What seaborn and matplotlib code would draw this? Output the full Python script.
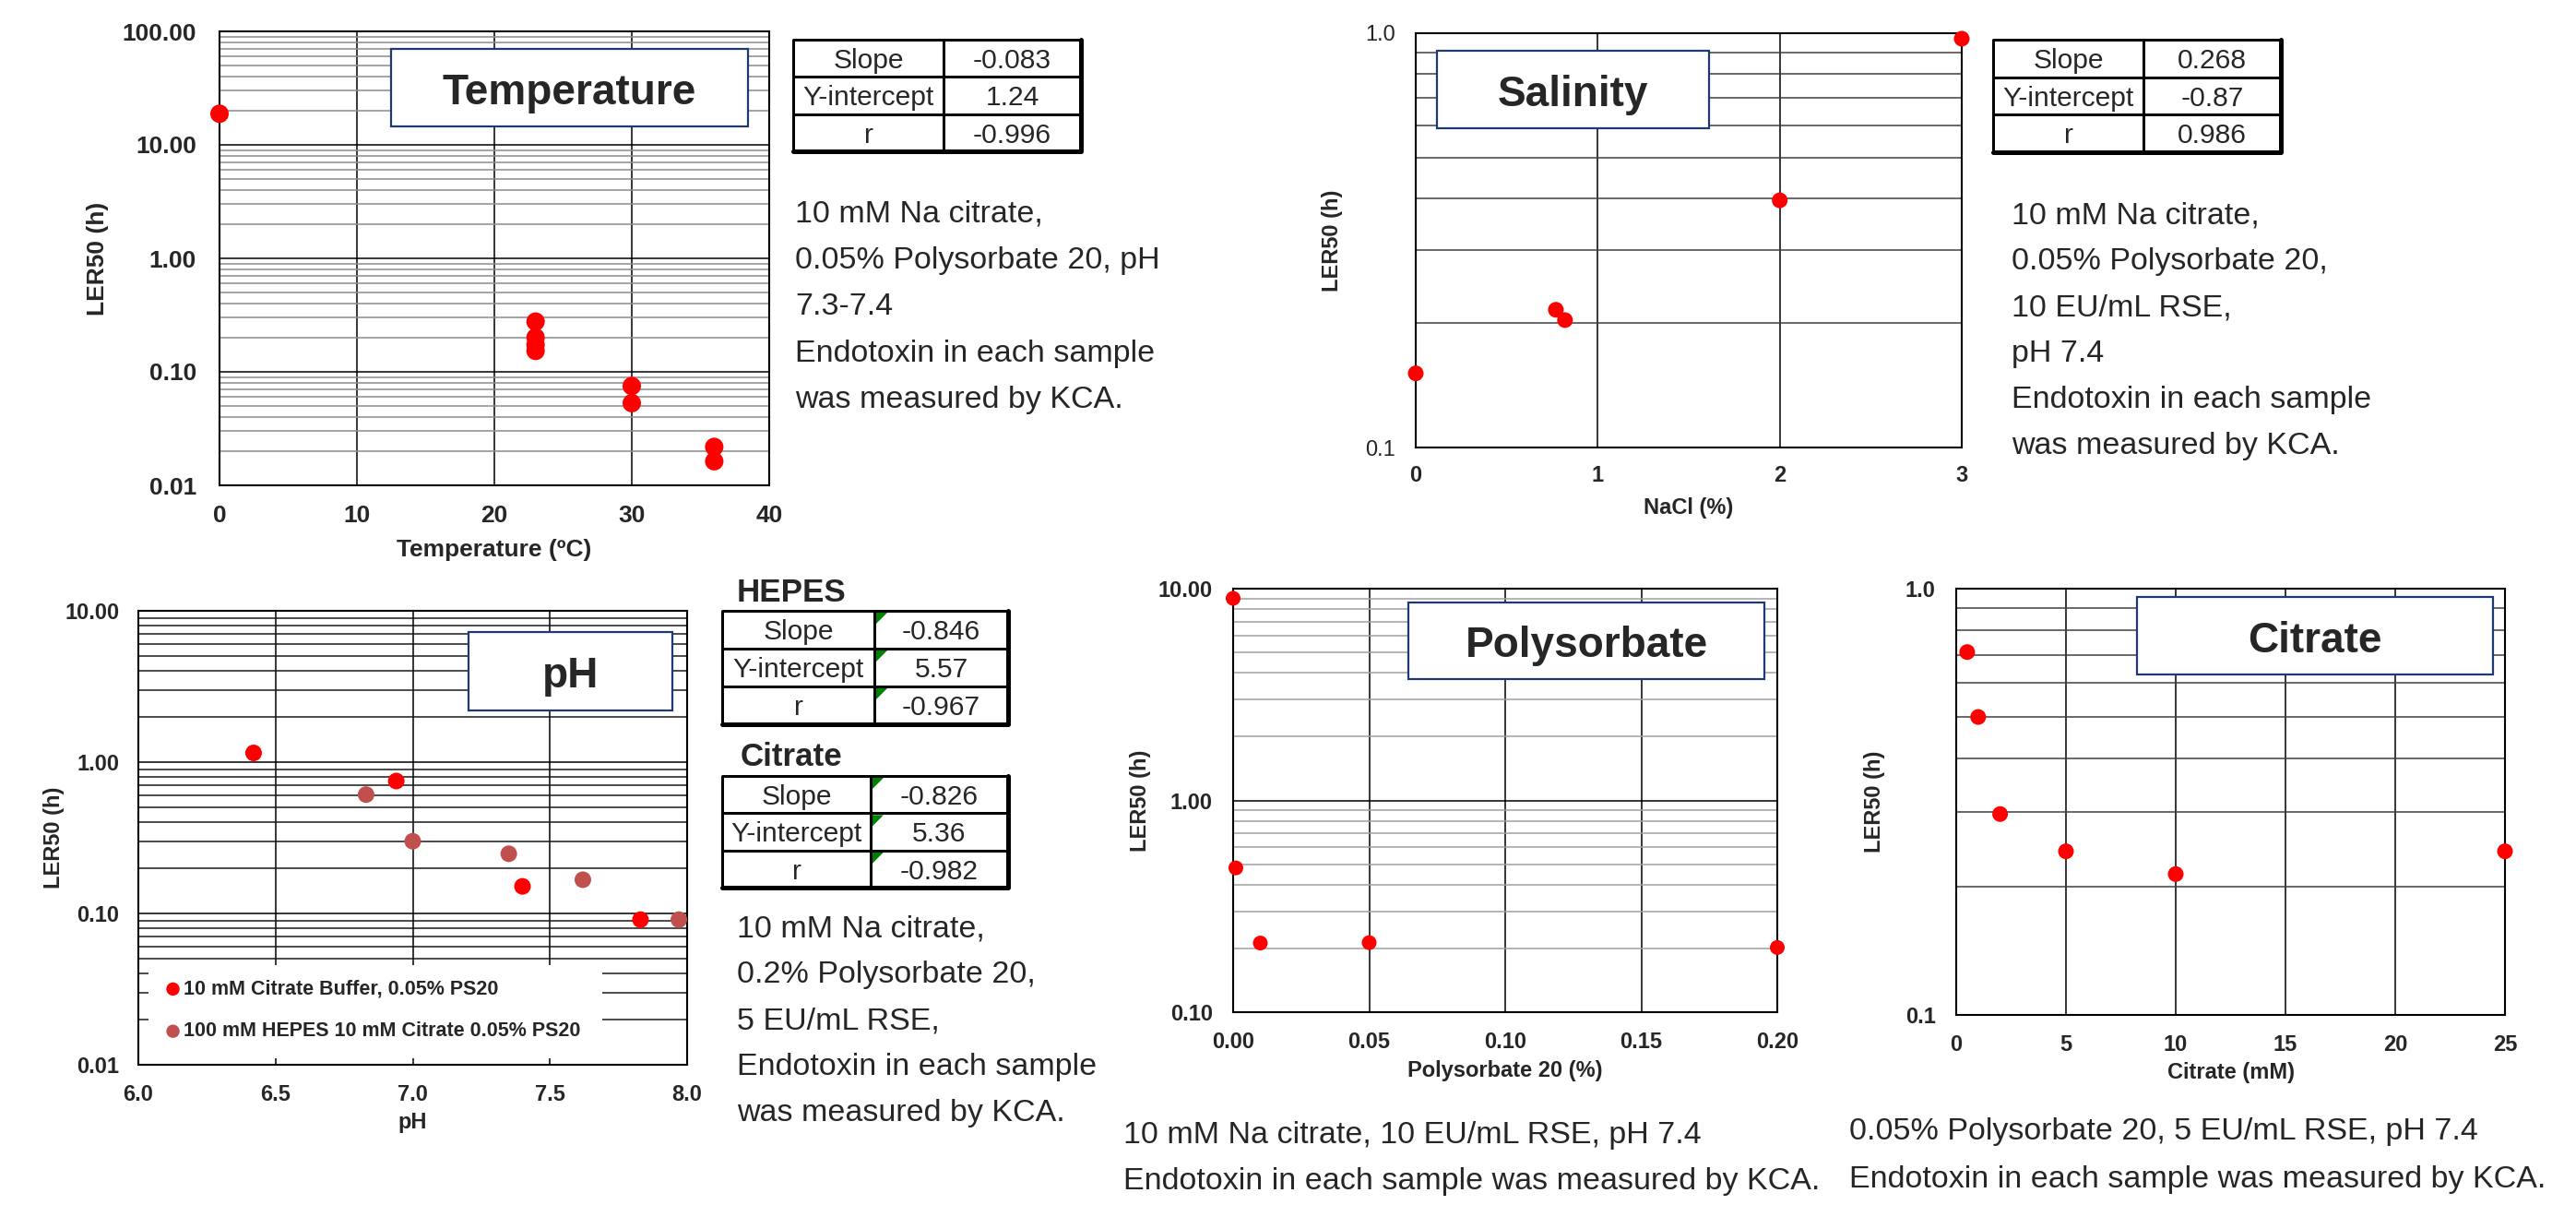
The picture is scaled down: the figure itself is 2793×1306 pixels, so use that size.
import matplotlib
matplotlib.use('Agg')
import matplotlib.pyplot as plt
from matplotlib import font_manager
from matplotlib.patches import Rectangle, Polygon
from matplotlib.ticker import (LogLocator, MultipleLocator, FormatStrFormatter,
                               NullFormatter)
import seaborn as sns

# ---- data ----
temp_c = [0, 23, 23, 23, 23, 30, 30, 36, 36]
temp_ler50 = [18.8, 0.277, 0.201, 0.173, 0.153, 0.075, 0.053, 0.0218, 0.0163]

nacl_pct = [0, 0.77, 0.82, 2, 3]
nacl_ler50 = [0.151, 0.215, 0.203, 0.395, 0.97]

ph_citrate_ph = [6.42, 6.94, 7.40, 7.83]
ph_citrate_ler50 = [1.15, 0.75, 0.151, 0.091]
ph_hepes_ph = [6.83, 7.00, 7.35, 7.62, 7.97]
ph_hepes_ler50 = [0.61, 0.30, 0.248, 0.167, 0.091]

ps20_pct = [0, 0.001, 0.01, 0.05, 0.2]
ps20_ler50 = [9.0, 0.48, 0.212, 0.213, 0.202]

citrate_mm = [0.5, 1, 2, 5, 10, 25]
citrate_ler50 = [0.71, 0.50, 0.296, 0.242, 0.214, 0.242]

fit_rows = ['Slope', 'Y-intercept', 'r']
temp_fit = ['-0.083', '1.24', '-0.996']
nacl_fit = ['0.268', '-0.87', '0.986']
hepes_fit = ['-0.846', '5.57', '-0.967']
citrate_fit = ['-0.826', '5.36', '-0.982']

temp_note = ['10 mM Na citrate,', '0.05% Polysorbate 20, pH', '7.3-7.4',
             'Endotoxin in each sample', 'was measured by KCA.']
nacl_note = ['10 mM Na citrate,', '0.05% Polysorbate 20,', '10 EU/mL RSE,',
             'pH 7.4', 'Endotoxin in each sample', 'was measured by KCA.']
ph_note = ['10 mM Na citrate,', '0.2% Polysorbate 20,', '5 EU/mL RSE,',
           'Endotoxin in each sample', 'was measured by KCA.']
ps20_note = ['10 mM Na citrate, 10 EU/mL RSE, pH 7.4',
             'Endotoxin in each sample was measured by KCA.']
citrate_note = ['0.05% Polysorbate 20, 5 EU/mL RSE, pH 7.4',
                'Endotoxin in each sample was measured by KCA.']

RED = '#FF0000'
HEPES_RED = '#C0504D'
BOX_EDGE = '#1F3A70'

W, H = 2793, 1306
DPI = 100
PT = 72 / DPI

sns.set_style('white')
plt.rcParams['font.family'] = ['Liberation Sans', 'DejaVu Sans']
installed = {f.name for f in font_manager.fontManager.ttflist}
if 'Liberation Sans Narrow' in installed:
    NARROW, TITLE_PX = ['Liberation Sans Narrow', 'DejaVu Sans'], 52
else:
    NARROW, TITLE_PX = ['Liberation Sans', 'DejaVu Sans'], 46

fig = plt.figure(figsize=(W / DPI, H / DPI), dpi=DPI)


def add_panel(box):
    l, t, r, b = box
    return fig.add_axes([l / W, 1 - b / H, (r - l) / W, (b - t) / H])


def setup(ax, box, xlim, xstep, xfmt, ylim, yfmt, xlabel, xlabel_y, ylabel_x,
          fs=17, minor_color='#404040', ypad=16, xpad=14, ytick_weight='bold'):
    l, t, r, b = box
    ax.set_yscale('log')
    ax.set_xlim(*xlim)
    ax.set_ylim(*ylim)
    ax.xaxis.set_major_locator(MultipleLocator(xstep))
    ax.xaxis.set_major_formatter(FormatStrFormatter(xfmt))
    ax.yaxis.set_major_locator(LogLocator(base=10, numticks=10))
    ax.yaxis.set_minor_locator(LogLocator(base=10, subs=range(2, 10), numticks=20))
    ax.yaxis.set_major_formatter(FormatStrFormatter(yfmt))
    ax.yaxis.set_minor_formatter(NullFormatter())
    ax.grid(True, which='major', axis='both', color='black', lw=1.1)
    ax.grid(True, which='minor', axis='y', color=minor_color, lw=1.1)
    ax.tick_params(which='both', length=0)
    ax.tick_params(axis='y', pad=ypad, labelsize=fs)
    ax.tick_params(axis='x', pad=xpad, labelsize=fs)
    for lab in ax.get_xticklabels():
        lab.set_fontweight('bold')
    for lab in ax.get_yticklabels():
        lab.set_fontweight(ytick_weight)
    for sp in ax.spines.values():
        sp.set_color('black')
        sp.set_linewidth(1.5)
    ax.set_xlabel(xlabel, fontsize=fs, fontweight='bold', va='center')
    ax.set_ylabel('LER50 (h)', fontsize=fs, fontweight='bold', va='center')
    ax.xaxis.set_label_coords(0.5, (b - xlabel_y) / (b - t))
    ax.yaxis.set_label_coords((ylabel_x - l) / (r - l), 0.5)


def dots(ax, x, y, s, color=RED, label=None):
    sns.scatterplot(x=x, y=y, ax=ax, color=color, s=s, edgecolor='none',
                    linewidth=0, zorder=5, clip_on=False, label=label,
                    legend=False)


# ---- panels ----
temp_box = (238, 34, 834, 526)
ax_t = add_panel(temp_box)
dots(ax_t, temp_c, temp_ler50, 207)
setup(ax_t, temp_box, (0, 40), 10, '%d', (0.01, 100), '%.2f',
      'Temperature (\u00baC)', 596, 106, fs=19, minor_color='#8C8C8C',
      ypad=18, xpad=15)

nacl_box = (1535, 36, 2127, 485)
ax_s = add_panel(nacl_box)
dots(ax_s, nacl_pct, nacl_ler50, 150)
setup(ax_s, nacl_box, (0, 3), 1, '%d', (0.1, 1.0), '%.1f', 'NaCl (%)',
      550, 1444, fs=17, minor_color='#404040', ypad=16, xpad=14,
      ytick_weight='normal')

ph_box = (150, 662, 745, 1154)
ax_p = add_panel(ph_box)
dots(ax_p, ph_citrate_ph, ph_citrate_ler50, 168,
     label='10 mM Citrate Buffer, 0.05% PS20')
dots(ax_p, ph_hepes_ph, ph_hepes_ler50, 168, color=HEPES_RED,
     label='100 mM HEPES 10 mM Citrate 0.05% PS20')
setup(ax_p, ph_box, (6, 8), 0.5, '%.1f', (0.01, 10), '%.2f', 'pH',
      1217, 59, fs=17, minor_color='#1A1A1A', ypad=15, xpad=15)
ax_p.add_patch(Rectangle((0.018, 0.014), 0.827, 0.206, transform=ax_p.transAxes,
                         fc='white', ec='none', zorder=2.4))
ax_p.legend(loc='center left', bbox_to_anchor=(0.045, 0.12), frameon=False,
            prop={'weight': 'bold', 'size': 15.5}, handletextpad=0.05,
            labelspacing=1.15, markerscale=0.8, handlelength=1.0,
            borderpad=0, borderaxespad=0)

ps_box = (1337, 638, 1927, 1097)
ax_ps = add_panel(ps_box)
dots(ax_ps, ps20_pct, ps20_ler50, 133)
setup(ax_ps, ps_box, (0, 0.2), 0.05, '%.2f', (0.1, 10), '%.2f',
      'Polysorbate 20 (%)', 1160, 1236, fs=17, minor_color='#A0A0A0',
      ypad=16, xpad=15)

cit_box = (2121, 638, 2716, 1100)
ax_c = add_panel(cit_box)
dots(ax_c, citrate_mm, citrate_ler50, 150)
setup(ax_c, cit_box, (0, 25), 5, '%d', (0.1, 1.0), '%.1f', 'Citrate (mM)',
      1163, 2033, fs=17, minor_color='#404040', ypad=16, xpad=15)

# ---- overlay in pixel coordinates for boxes, tables and notes ----
ov = fig.add_axes([0, 0, 1, 1], zorder=10)
ov.set_xlim(0, W)
ov.set_ylim(H, 0)
ov.axis('off')
ov.patch.set_alpha(0)


def title_box(l, t, r, b, text, family=NARROW, size_px=TITLE_PX):
    ov.add_patch(Rectangle((l, t), r - l, b - t, fc='white', ec=BOX_EDGE,
                           lw=2.2 * PT, zorder=3))
    ov.text((l + r) / 2, t + 0.71 * (b - t), text, ha='center', va='baseline',
            fontsize=size_px * PT, fontweight='bold', family=family, zorder=4)


def fit_table(l, t, r, b, split, labels, values, fs_px=30, marks=False):
    n = len(labels)
    rh = (b - t) / n
    for i in range(1, n):
        ov.plot([l, r], [t + i * rh] * 2, color='black', lw=3 * PT)
    ov.plot([split, split], [t, b], color='black', lw=3 * PT)
    ov.plot([l, l, r], [b, t, t], color='black', lw=3 * PT)
    ov.plot([r, r, l], [t, b, b], color='black', lw=5 * PT)
    for i, (lab, val) in enumerate(zip(labels, values)):
        yb = t + (i + 0.5) * rh + 0.36 * fs_px
        ov.text((l + split) / 2, yb, lab, ha='center', va='baseline',
                fontsize=fs_px * PT)
        ov.text((split + r) / 2, yb, val, ha='center', va='baseline',
                fontsize=fs_px * PT)
        if marks:
            y0 = t + i * rh + 2
            ov.add_patch(Polygon([(split + 2, y0), (split + 14, y0),
                                  (split + 2, y0 + 12)], closed=True,
                                 fc='#008000', ec='none'))


def note(x, y_first, lines, step, fs_px=34):
    for i, line in enumerate(lines):
        ov.text(x, y_first + i * step + 0.36 * fs_px, line, ha='left',
                va='baseline', fontsize=fs_px * PT)


title_box(424, 53, 811, 137, 'Temperature')
title_box(1558, 55, 1853, 139, 'Salinity')
title_box(508, 685, 729, 770, 'pH', family=['Liberation Sans', 'DejaVu Sans'],
          size_px=46)
title_box(1527, 653, 1913, 736, 'Polysorbate')
title_box(2317, 647, 2703, 731, 'Citrate')

fit_table(860, 43, 1172, 164, 1023, fit_rows, temp_fit)
fit_table(2161, 43, 2473, 165, 2324, fit_rows, nacl_fit)
ov.text(799, 639 + 0.36 * 35, 'HEPES', ha='left', va='baseline',
        fontsize=35 * PT, fontweight='bold')
fit_table(783, 662, 1093, 785, 948, fit_rows, hepes_fit, marks=True)
ov.text(803, 817 + 0.36 * 35, 'Citrate', ha='left', va='baseline',
        fontsize=35 * PT, fontweight='bold')
fit_table(783, 841, 1093, 962, 944, fit_rows, citrate_fit, marks=True)

note(862, 228, temp_note, 50.5)
note(2181, 230, nacl_note, 50)
note(799, 1003, ph_note, 50)
note(1218, 1227, ps20_note, 50)
note(2005, 1223, citrate_note, 52)

fig.savefig('out.png', dpi=DPI, facecolor='white')
